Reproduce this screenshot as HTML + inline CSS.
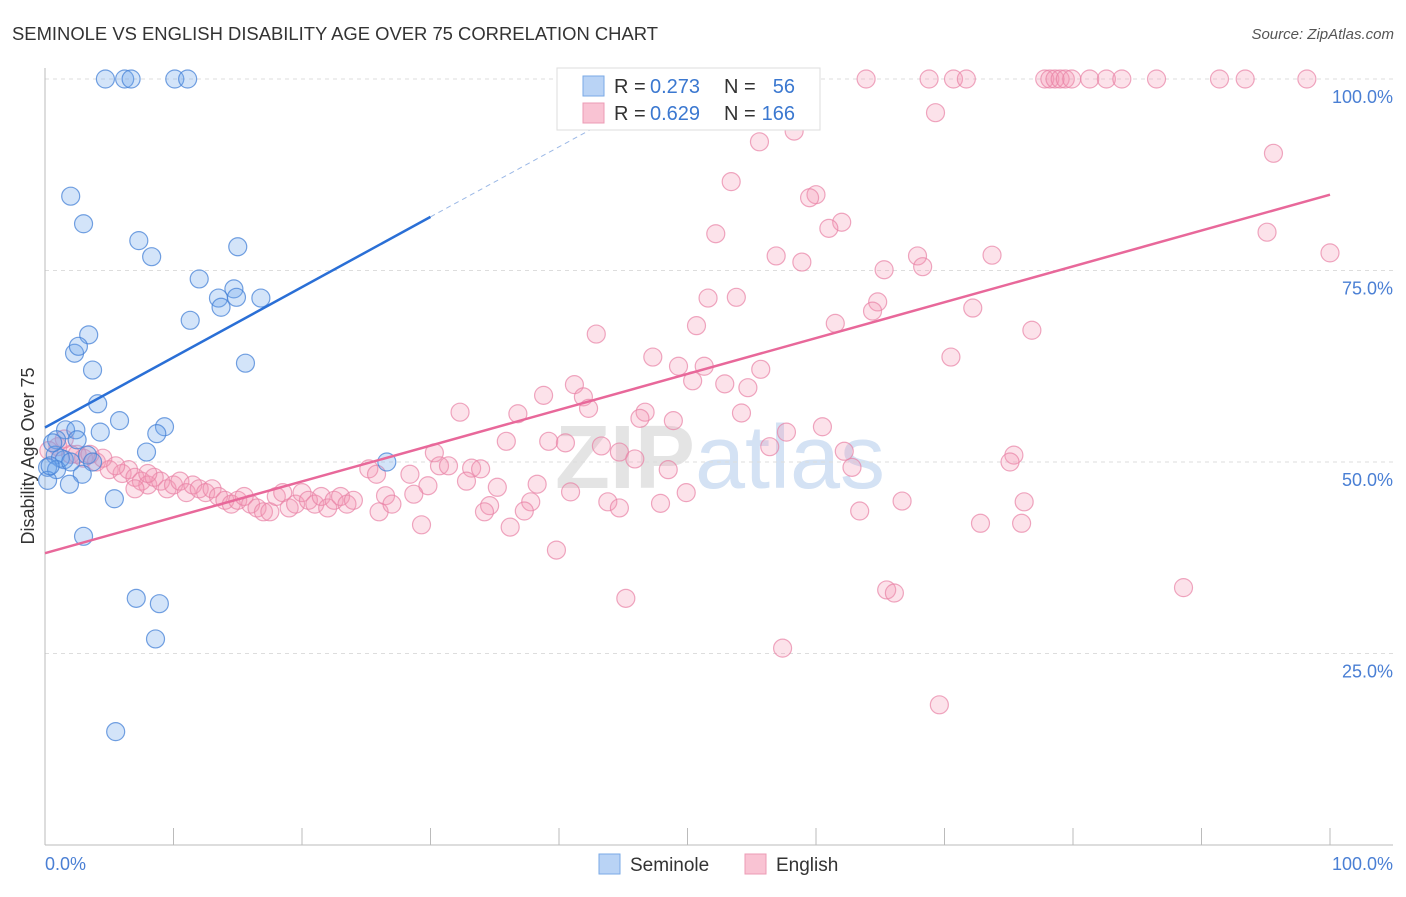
<!DOCTYPE html>
<html><head><meta charset="utf-8"><style>
body{margin:0;background:#fff;font-family:"Liberation Sans",sans-serif;}
</style></head><body>
<svg width="1406" height="892" xmlns="http://www.w3.org/2000/svg">
<text x="12" y="40" font-size="18" fill="#333" textLength="646" lengthAdjust="spacingAndGlyphs">SEMINOLE VS ENGLISH DISABILITY AGE OVER 75 CORRELATION CHART</text>
<text x="1394" y="39" font-size="15" fill="#555" font-style="italic" text-anchor="end">Source: ZipAtlas.com</text>
<text x="720" y="488" font-size="90" fill="#e4e4e4" text-anchor="middle" font-weight="bold">ZIP<tspan fill="#d4e2f4" font-weight="normal">atlas</tspan></text>
<g id="grid"></g>
<g id="axes"></g>
<g id="marks"></g>
<g id="lines"></g>
<text x="34" y="456" font-size="18" fill="#333" text-anchor="middle" transform="rotate(-90 34 456)">Disability Age Over 75</text>
<text x="45" y="870" font-size="18" fill="#4a7fd4">0.0%</text>
<text x="1393" y="870" font-size="18" fill="#4a7fd4" text-anchor="end">100.0%</text>
<g>
<rect x="557" y="68" width="263" height="62" fill="#fff" stroke="#ddd"/>
<rect x="583" y="76" width="21" height="20" fill="#b9d3f5" stroke="#7aa9e6"/>
<rect x="583" y="103" width="21" height="20" fill="#f9c3d3" stroke="#ec9bb4"/>
<text x="614" y="93" font-size="20" fill="#333">R =</text>
<text x="650" y="93" font-size="20" fill="#3b78d0">0.273</text>
<text x="724" y="93" font-size="20" fill="#333">N =</text>
<text x="795" y="93" font-size="20" fill="#3b78d0" text-anchor="end">56</text>
<text x="614" y="120" font-size="20" fill="#333">R =</text>
<text x="650" y="120" font-size="20" fill="#3b78d0">0.629</text>
<text x="724" y="120" font-size="20" fill="#333">N =</text>
<text x="795" y="120" font-size="20" fill="#3b78d0" text-anchor="end">166</text>
</g>
<g>
<rect x="599" y="854" width="21" height="20" fill="#b9d3f5" stroke="#7aa9e6"/>
<text x="630" y="871" font-size="19" fill="#333">Seminole</text>
<rect x="745" y="854" width="21" height="20" fill="#f9c3d3" stroke="#ec9bb4"/>
<text x="776" y="871" font-size="19" fill="#333">English</text>
</g>
</svg>
<script>
const yTicks=[25,50,75,100];
const yTickLabels=["25.0%","50.0%","75.0%","100.0%"];
const xTicks=[0,10,20,30,40,50,60,70,80,90,100];
const blueX=[4.7,6.2,6.7,10.1,11.1,2.0,3.0,7.3,8.3,15.0,12.0,14.7,13.5,14.9,16.8,13.7,11.3,3.4,2.3,2.6,3.7,15.6,4.1,5.8,9.3,8.7,4.3,1.6,2.4,0.9,2.5,7.9,0.8,1.5,3.3,3.7,1.2,26.6,0.2,0.9,2.9,1.9,5.4,3.0,7.1,8.9,8.6,5.5,0.2,0.6,2.0,0.4];
const blueY=[100,100,100,100,100,84.7,81.1,78.9,76.8,78.1,73.9,72.6,71.4,71.5,71.4,70.2,68.5,66.6,64.2,65.1,62.0,62.9,57.6,55.4,54.6,53.7,53.9,54.2,54.2,52.9,52.9,51.3,50.9,50.3,50.9,50.0,50.5,50.0,49.3,49.0,48.4,47.1,45.2,40.3,32.2,31.5,26.9,14.8,47.6,52.5,50.0,49.5];
const pinkX=[63.9,68.8,70.7,71.7,77.8,78.2,78.6,79.0,79.4,79.9,81.3,82.6,83.8,86.5,91.4,93.4,98.2,69.3,55.6,58.3,95.6,53.4,60.0,59.5,62.0,61.0,52.2,95.1,100,56.9,58.9,67.9,68.3,65.3,73.7,51.6,53.8,64.8,64.4,72.2,50.7,61.5,76.8,42.9,47.3,49.3,51.3,70.5,55.7,50.4,52.9,54.7,41.2,41.9,38.8,42.3,32.3,36.8,46.7,46.3,48.9,54.2,60.5,57.7,56.4,35.9,39.2,40.5,43.3,44.7,45.9,62.2,62.8,75.4,75.1,30.3,30.7,31.4,33.2,33.9,48.5,25.2,25.8,28.4,32.8,35.2,38.3,40.9,29.8,26.5,28.7,49.9,43.8,44.7,47.9,37.8,34.6,34.2,37.3,36.2,29.3,39.8,66.7,63.4,76.2,72.8,76.0,45.2,65.5,66.1,88.6,57.4,69.6,
1,2,3,4,5,6,6.5,7,7.5,8,8.5,9,9.5,10,10.5,11,11.5,12,12.5,13,13.5,14,14.5,15,15.5,16,16.5,17,17.5,18,18.5,19,19.5,20,20.5,21,21.5,22,22.5,23,23.5,24,26,27,1.5,2.5,3.5,4.5,5.5,7,8,0.3];
const pinkY=[100,100,100,100,100,100,100,100,100,100,100,100,100,100,100,100,100,95.6,91.8,93.2,90.3,86.6,84.9,84.5,81.3,80.5,79.8,80.0,77.3,76.9,76.1,76.9,75.5,75.1,77.0,71.4,71.5,70.9,69.7,70.1,67.8,68.1,67.2,66.7,63.7,62.5,62.5,63.7,62.1,60.6,60.2,59.7,60.1,58.5,58.7,57.0,56.5,56.3,56.5,55.7,55.4,56.4,54.6,53.9,52.0,52.7,52.7,52.5,52.1,51.3,50.4,51.4,49.3,50.9,50.0,51.2,49.5,49.5,49.2,49.1,49.0,49.1,48.4,48.4,47.5,46.7,47.1,46.1,46.9,45.6,45.8,46.0,44.8,44.0,44.6,44.8,44.3,43.5,43.6,41.5,41.8,38.5,44.9,43.6,44.8,42.0,42.0,32.2,33.3,32.9,33.6,25.7,18.3,
52,51,50.5,50,49,48.5,49,48,47.5,47,48,47.5,46.5,47,47.5,46,47,46.5,46,46.5,45.5,45,44.5,45,45.5,44.5,44,43.5,43.5,45.5,46,44,44.5,46,45,44.5,45.5,44,45,45.5,44.5,45,43.5,44.5,53,51,51,50.5,49.5,46.5,48.5,51.5];
const blueLine=[[0,54.5],[30,82]];
const blueDash=[[30,82],[44,94.8]];
const pinkLine=[[0,38.1],[100,84.9]];
const NS="http://www.w3.org/2000/svg";
const X=v=>45+v*12.85, Y=v=>845-v*7.66;
function mk(t,a,p){const e=document.createElementNS(NS,t);for(const k in a)e.setAttribute(k,a[k]);document.getElementById(p).appendChild(e);return e;}
yTicks.forEach((t,i)=>{
 const g=mk('line',{x1:45,x2:1393,y1:Y(t),y2:Y(t),stroke:'#ddd','stroke-dasharray':'4,4'},'grid');
 
 
 const l=mk('text',{x:1393,y:Y(t)+24,'font-size':18,fill:'#4a7fd4','text-anchor':'end'},'axes');
 l.textContent=yTickLabels[i];
 
 
});
const ya=mk('line',{x1:45,x2:45,y1:68,y2:845,stroke:'#bbb'},'axes');


const xa=mk('line',{x1:45,x2:1393,y1:845,y2:845,stroke:'#bbb'},'axes');


xTicks.forEach(t=>{const e=mk('line',{x1:X(t),x2:X(t),y1:828,y2:845,stroke:'#bbb'},'axes');
 
 });
pinkX.forEach((v,i)=>{const c=mk('circle',{cx:X(v),cy:Y(pinkY[i]),r:9,fill:'rgba(244,150,180,0.28)',stroke:'rgba(232,130,165,0.7)','stroke-width':1.2},'marks');
 
 });
blueX.forEach((v,i)=>{const c=mk('circle',{cx:X(v),cy:Y(blueY[i]),r:9,fill:'rgba(110,165,235,0.3)',stroke:'rgba(70,130,215,0.75)','stroke-width':1.2},'marks');
 
 });
const bl=mk('line',{x1:X(blueLine[0][0]),y1:Y(blueLine[0][1]),x2:X(blueLine[1][0]),y2:Y(blueLine[1][1]),stroke:'#2a6fd6','stroke-width':2.5},'lines');


const bd=mk('line',{x1:X(blueDash[0][0]),y1:Y(blueDash[0][1]),x2:X(blueDash[1][0]),y2:Y(blueDash[1][1]),stroke:'#9bb8e6','stroke-width':1,'stroke-dasharray':'5,4'},'lines');


const pl=mk('line',{x1:X(pinkLine[0][0]),y1:Y(pinkLine[0][1]),x2:X(pinkLine[1][0]),y2:Y(pinkLine[1][1]),stroke:'#e8689a','stroke-width':2.5},'lines');


</script>
</body></html>
